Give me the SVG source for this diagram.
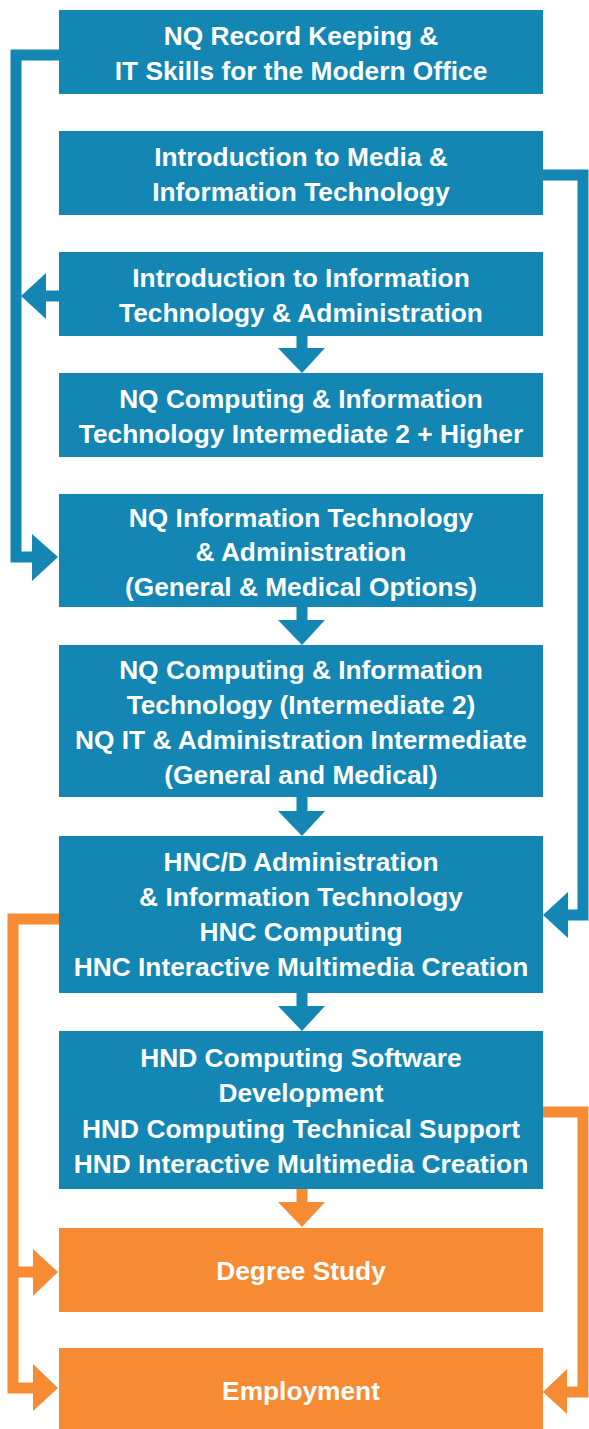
<svg xmlns="http://www.w3.org/2000/svg" width="589" height="1429" viewBox="0 0 589 1429">
<style>
.b{fill:#1386b4}
.o{fill:#f68b33}
.t{font-family:"Liberation Sans",Arial,sans-serif;font-weight:bold;font-size:26.3px;fill:#fff;text-anchor:middle;dominant-baseline:central}
.lb{fill:none;stroke:#1386b4;stroke-width:11}
.lo{fill:none;stroke:#f68b33;stroke-width:11}
</style>
<rect width="589" height="1429" fill="#fff"/>
<g id="connectors">
<path class="lb" d="M59 55 H16 V557 H33"/>
<polygon class="b" points="32,534 58,557 32,581"/>
<path class="lb" d="M59 296 H45"/>
<polygon class="b" points="46,273 21,296 46,319"/>
<path class="lb" d="M543 175 H583 V915 H567"/>
<polygon class="b" points="568,892 543,915 568,938"/>
<path class="lb" d="M302 335 V349"/>
<polygon class="b" points="278,348 325,348 302,373"/>
<path class="lb" d="M302 607 V621"/>
<polygon class="b" points="278,620 325,620 302,645"/>
<path class="lb" d="M302 797 V812"/>
<polygon class="b" points="278,811 325,811 302,836"/>
<path class="lb" d="M302 993 V1007"/>
<polygon class="b" points="278,1006 325,1006 302,1031"/>
<path class="lo" d="M302 1189 V1203"/>
<polygon class="o" points="278,1202 325,1202 302,1227"/>
<path class="lo" d="M59 919 H13 V1388 H34"/>
<path class="lo" d="M13 1272 H34"/>
<polygon class="o" points="33,1249 58,1272 33,1296"/>
<polygon class="o" points="33,1364 58,1388 33,1411"/>
<path class="lo" d="M543 1112 H583 V1392 H566"/>
<polygon class="o" points="567,1369 543,1392 567,1414"/>
</g>
<g id="n1"><rect class="b" x="59" y="10" width="484" height="84"/><text class="t" x="301" y="36">NQ Record Keeping &amp;</text><text class="t" x="301" y="71">IT Skills for the Modern Office</text></g>
<g id="n2"><rect class="b" x="59" y="131" width="484" height="84"/><text class="t" x="301" y="157">Introduction to Media &amp;</text><text class="t" x="301" y="192">Information Technology</text></g>
<g id="n3"><rect class="b" x="59" y="252" width="484" height="84"/><text class="t" x="301" y="278">Introduction to Information</text><text class="t" x="301" y="313">Technology &amp; Administration</text></g>
<g id="n4"><rect class="b" x="59" y="373" width="484" height="84"/><text class="t" x="301" y="399">NQ Computing &amp; Information</text><text class="t" x="301" y="434">Technology Intermediate 2 + Higher</text></g>
<g id="n5"><rect class="b" x="59" y="494" width="484" height="113"/><text class="t" x="301" y="518">NQ Information Technology</text><text class="t" x="301" y="552">&amp; Administration</text><text class="t" x="301" y="587">(General &amp; Medical Options)</text></g>
<g id="n6"><rect class="b" x="59" y="645" width="484" height="152"/><text class="t" x="301" y="670">NQ Computing &amp; Information</text><text class="t" x="301" y="705">Technology (Intermediate 2)</text><text class="t" x="301" y="740">NQ IT &amp; Administration Intermediate</text><text class="t" x="301" y="775">(General and Medical)</text></g>
<g id="n7"><rect class="b" x="59" y="836" width="484" height="157"/><text class="t" x="301" y="862">HNC/D Administration</text><text class="t" x="301" y="897">&amp; Information Technology</text><text class="t" x="301" y="932">HNC Computing</text><text class="t" x="301" y="967">HNC Interactive Multimedia Creation</text></g>
<g id="n8"><rect class="b" x="59" y="1031" width="484" height="158"/><text class="t" x="301" y="1058">HND Computing Software</text><text class="t" x="301" y="1093">Development</text><text class="t" x="301" y="1129">HND Computing Technical Support</text><text class="t" x="301" y="1164">HND Interactive Multimedia Creation</text></g>
<g id="n9"><rect class="o" x="59" y="1228" width="484" height="84"/><text class="t" x="301" y="1271">Degree Study</text></g>
<g id="n10"><rect class="o" x="59" y="1348" width="484" height="81"/><text class="t" x="301" y="1391">Employment</text></g>
</svg>
